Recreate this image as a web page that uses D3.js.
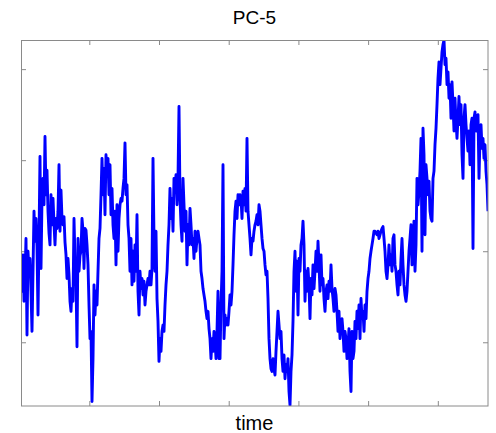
<!DOCTYPE html>
<html>
<head>
<meta charset="utf-8">
<script src="https://cdn.jsdelivr.net/npm/d3@7.9.0/dist/d3.min.js"></script>
<style>
  html, body { margin: 0; padding: 0; background: #fff; }
  svg { display: block; }
  text { font-family: "Liberation Sans", Arial, sans-serif; fill: #000; }
</style>
</head>
<body>
<svg id="chart" width="496" height="433"></svg>
<script>
// PC-5 component (left to right, arbitrary units)
const pc5 = [
  -0.15, -0.44, -0.04, -0.55, -0.30, 0.14, -0.92, 0.00, -0.22, -0.08, -0.44, -0.88, -0.22, 0.44, 0.11, 0.36,
  0.05, -0.70, 0.14, 1.04, -0.19, 0.58, 0.80, 0.51, 1.26, 0.62, 0.89, 0.44, 0.20, 0.07, 0.62, 0.29,
  0.58, 0.30, 0.07, 0.36, 0.25, 0.44, 0.95, 0.22, 0.67, 0.36, 0.29, 0.38, 0.10, -0.04, -0.30, -0.08,
  -0.26, -0.55, -0.66, -0.41, -0.55, 0.36, -0.10, -0.30, -1.05, 0.14, -0.22, -0.05, 0.00, 0.36, 0.23, -0.19,
  0.25, 0.23,
  0.07, -0.15, -0.59, -0.96, -0.88, -1.65, -1.18, -0.37, -0.70, -0.44, -0.59, -0.22, 0.14, 0.25, 0.62, 1.02,
  0.62, 0.91, 0.40, 1.06, 0.88, 1.02, 0.62, 0.95, 0.40, 0.69, 0.29, 0.14, 0.44, -0.15, 0.51, 0.00,
  0.36, 0.51, 0.58, 0.55, 0.69, 0.80, 1.19, 0.62, 0.73, 0.29, 0.14, -0.22, 0.14, -0.37, 0.00, -0.33,
  0.07, -0.22, 0.40, -0.44, -0.70, -0.22, -0.41, -0.30, -0.48, -0.33, -0.59, -0.44, -0.37, -0.30, -0.37, -0.22,
  -0.37, -0.19,
  1.02, 0.14, -0.22, 0.22, -0.52, -0.77, -1.21, -0.96, -1.10, -0.88, -0.81, -0.88, -0.59, -0.37, -0.22, 0.07,
  0.29, 0.69, 0.36, 0.58, 0.22, 0.80, 0.66, 0.84, 0.51, 0.80, 1.59, 0.58, 0.29, 0.11, 0.80, 0.51,
  0.22, 0.44, -0.15, 0.29, 0.07, 0.47, 0.29, 0.07, 0.14, -0.08, 0.22, 0.00, 0.14, 0.22, 0.14, 0.07,
  -0.22, -0.30, -0.41, -0.48, -0.55, -0.66, -0.74, -0.66, -0.85, -0.96, -1.18, -0.96, -1.10, -0.88, -0.96, -1.18,
  -0.88, -0.44, -1.18,
  -1.18, -0.59, -0.22, 0.95, -0.96, -0.70, -0.81, -0.74, -0.81, -0.66, -0.48, -0.59, -0.44, -0.15, 0.18, 0.44,
  0.55, 0.36, 0.62, 0.51, 0.62, 0.58, 0.36, 0.66, 0.51, 0.69, 0.44, 1.24, 0.44, 0.29, 0.14, -0.04,
  0.14, 0.11, 0.22, 0.29, 0.33, 0.40, 0.29, 0.51, 0.44, 0.29, 0.14, 0.03, 0.00, -0.15, -0.26, -0.22,
  -0.52, -0.96, -1.18, -1.29, -1.32, -1.18, -1.29, -1.36, -1.10, -0.88, -0.66, -0.81, -0.96, -0.88, -1.18, -1.32,
  -1.14, -1.40, -1.25,
  -1.32, -1.18, -1.54, -1.69, -1.32, -1.14, -0.77, -0.22, 0.00, -0.44, -0.11, -0.70, -0.08, -0.22, 0.07, 0.14,
  0.33, 0.07, -0.55, -0.22, -0.44, -0.19, -0.37, -0.74, -0.30, -0.48, -0.15, -0.41, -0.22, 0.00, -0.22, 0.11,
  -0.15, -0.44, -0.04, -0.37, -0.30, -0.52, -0.66, -0.44, -0.37, -0.52, -0.33, -0.44, -0.15, -0.41, -0.52, -0.66,
  -0.41, -0.48, -0.66, -0.88, -0.66, -0.96, -0.81, -0.74, -0.88, -1.10, -0.88, -0.96, -1.18, -1.03, -0.85, -1.32,
  -1.54, -0.88, -1.18, -1.10,
  -0.77, -0.96, -0.66, -0.85, -0.59, -0.96, -0.52, -0.74, -0.66, -0.88, -0.59, -0.74, -0.44, -0.30, -0.22, -0.08,
  0.00, 0.07, 0.14, 0.22, 0.22, 0.20, 0.18, 0.22, 0.14, 0.18, 0.22, 0.25, 0.27, 0.14, 0.00, -0.22,
  -0.30, -0.15, 0.07, -0.15, -0.04, -0.22, 0.14, 0.18, -0.15, -0.22, -0.37, -0.48, -0.22, -0.37, -0.08, 0.14,
  -0.15, -0.37, -0.48, -0.55, -0.44, -0.22, 0.00, 0.14, 0.29, -0.15, 0.07, 0.33, -0.22, 0.07, 0.80, 0.51,
  0.66, 0.88, 1.24,
  0.00, 1.35, 1.06, 0.18, 0.95, 0.80, 0.62, 0.77, 0.44, 0.36, 0.33, 0.80, 0.88, 1.17, 1.35, 1.61,
  1.90, 2.08, 1.83, 2.01, 2.19, 2.27, 2.32, 2.05, 2.12, 1.83, 1.97, 1.68, 1.83, 1.46, 1.86, 1.61,
  1.32, 1.68, 1.42, 1.24, 1.46, 1.70, 1.39, 1.61, 1.06, 0.80, 1.46, 1.61, 1.39, 1.24, 1.10, 1.32,
  0.95, 1.39, 1.46, 0.03, 1.46, 1.53, 1.32, 1.46, 1.50, 0.80, 1.24, 1.39, 1.13, 1.24, 1.02, 1.17,
  0.88, 0.73, 0.44
];

// time span covered by the samples and axis ticks (no tick labels in the figure)
const timeStart = 2;
const timeEnd = 672;
const timeTicks = [100, 200, 300, 400, 500, 600];
const valueTicks = [-1, 0, 1, 2];
const valueRange = [-1.70, 2.32];

const titleText = 'PC-5';
const xLabel = 'time';

const margin = { top: 40, right: 8, bottom: 27, left: 21 };
const width = 496, height = 433;
const plotW = width - margin.left - margin.right;
const plotH = height - margin.top - margin.bottom;

const step = (timeEnd - timeStart) / (pc5.length - 1);
const series = pc5.map((v, i) => ({ t: timeStart + i * step, v }));

const x = d3.scaleLinear().domain([timeStart, timeEnd]).range([0, plotW]);
const y = d3.scaleLinear().domain(valueRange).range([plotH, 0]);

const svg = d3.select('#chart');
const g = svg.append('g').attr('transform', `translate(${margin.left},${margin.top})`);

g.append('clipPath').attr('id', 'clip')
  .append('rect').attr('width', plotW).attr('height', plotH);

const axisColor = '#8a8a8a';
function styleAxis(sel) {
  sel.select('.domain').remove();
  sel.selectAll('.tick line').attr('stroke', axisColor);
}

g.append('g').attr('transform', `translate(0,${plotH})`)
  .call(d3.axisBottom(x).tickValues(timeTicks).tickSize(-5).tickFormat(''))
  .call(styleAxis);
g.append('g')
  .call(d3.axisTop(x).tickValues(timeTicks).tickSize(-5).tickFormat(''))
  .call(styleAxis);
g.append('g')
  .call(d3.axisLeft(y).tickValues(valueTicks).tickSize(-5).tickFormat(''))
  .call(styleAxis);
g.append('g').attr('transform', `translate(${plotW},0)`)
  .call(d3.axisRight(y).tickValues(valueTicks).tickSize(-5).tickFormat(''))
  .call(styleAxis);

const line = d3.line().x(d => x(d.t)).y(d => y(d.v));

g.append('path')
  .datum(series)
  .attr('clip-path', 'url(#clip)')
  .attr('fill', 'none')
  .attr('stroke', '#0000ff')
  .attr('stroke-width', 2.9)
  .attr('stroke-linejoin', 'round')
  .attr('d', line);

g.append('rect')
  .attr('x', 0.5).attr('y', 0.5)
  .attr('width', plotW - 0.5).attr('height', plotH - 0.5)
  .attr('fill', 'none')
  .attr('stroke', axisColor)
  .attr('stroke-width', 1);

svg.append('text')
  .attr('x', margin.left + plotW / 2)
  .attr('y', 24)
  .attr('text-anchor', 'middle')
  .style('font-size', '19px')
  .text(titleText);

svg.append('text')
  .attr('x', margin.left + plotW / 2)
  .attr('y', 430)
  .attr('text-anchor', 'middle')
  .style('font-size', '20px')
  .text(xLabel);
</script>
</body>
</html>
